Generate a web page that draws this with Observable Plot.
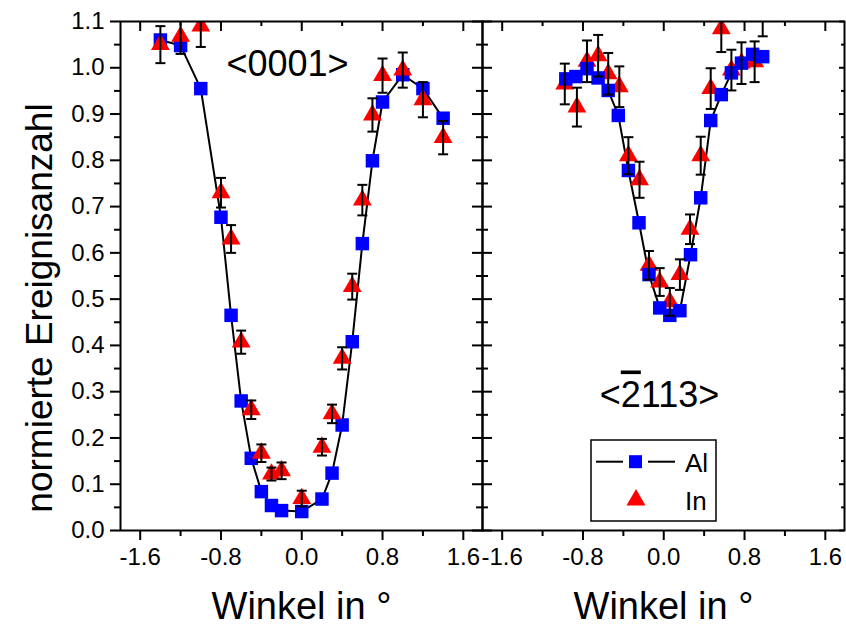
<!DOCTYPE html>
<html>
<head>
<meta charset="utf-8">
<script src="https://cdn.jsdelivr.net/npm/d3@7"></script>
<script src="https://cdn.jsdelivr.net/npm/@observablehq/plot@0.6"></script>
<style>
  body { margin: 0; background: white; }
  #wrap { position: relative; width: 846px; height: 626px; font-family: "Liberation Sans", Arial, sans-serif; }
  #legend { position: absolute; left: 590px; top: 439px; }
</style>
</head>
<body>
<div id="wrap">
  <div id="chart"></div>
  <svg id="legend" width="127" height="83"></svg>
</div>
<script>
// ---- Panels ----
const panelNames = ["<0001>", "<-2113>"];

// ---- Left panel <0001> : Al (blue squares, connected) ----
const xAlA = [-1.4, -1.2, -1.0, -0.8, -0.7, -0.6, -0.5, -0.4, -0.3, -0.2, 0.0, 0.2, 0.3, 0.4, 0.5, 0.6, 0.7, 0.8, 1.0, 1.2, 1.4];
const yAlA = [1.060, 1.048, 0.955, 0.677, 0.465, 0.280, 0.156, 0.084, 0.054, 0.043, 0.041, 0.068, 0.124, 0.228, 0.408, 0.620, 0.799, 0.926, 0.985, 0.955, 0.891];

// ---- Left panel <0001> : In (red triangles with error bars) ----
const xInA = [-1.4, -1.2, -1.0, -0.8, -0.7, -0.6, -0.5, -0.4, -0.3, -0.2, 0.0, 0.2, 0.3, 0.4, 0.5, 0.6, 0.7, 0.8, 1.0, 1.2, 1.4];
const yInA = [1.050, 1.068, 1.090, 0.730, 0.630, 0.407, 0.261, 0.167, 0.122, 0.129, 0.069, 0.180, 0.252, 0.372, 0.527, 0.714, 0.898, 0.983, 0.995, 0.931, 0.849];
const eInA = [0.040, 0.038, 0.045, 0.032, 0.030, 0.025, 0.020, 0.019, 0.014, 0.018, 0.017, 0.018, 0.020, 0.024, 0.028, 0.033, 0.036, 0.037, 0.038, 0.038, 0.036];

// ---- Right panel <-2113> : Al ----
const xAlB = [-0.97, -0.87, -0.76, -0.65, -0.55, -0.45, -0.35, -0.245, -0.146, -0.04, 0.06, 0.16, 0.265, 0.366, 0.465, 0.57, 0.67, 0.77, 0.88, 0.98];
const yAlB = [0.976, 0.981, 0.998, 0.978, 0.951, 0.897, 0.778, 0.665, 0.553, 0.481, 0.465, 0.475, 0.596, 0.719, 0.886, 0.942, 0.989, 1.010, 1.029, 1.024];

// ---- Right panel <-2113> : In ----
const xInB = [-0.98, -0.86, -0.76, -0.65, -0.55, -0.44, -0.35, -0.24, -0.146, -0.04, 0.06, 0.16, 0.26, 0.366, 0.465, 0.57, 0.67, 0.77, 0.90, 0.98];
const yInB = [0.965, 0.915, 1.014, 1.026, 0.987, 0.959, 0.810, 0.758, 0.573, 0.537, 0.494, 0.553, 0.651, 0.810, 0.955, 1.084, 0.995, 1.010, 1.013, 1.115];
const eInB = [0.044, 0.042, 0.045, 0.045, 0.045, 0.044, 0.040, 0.039, 0.031, 0.030, 0.030, 0.033, 0.032, 0.041, 0.044, 0.050, 0.044, 0.045, 0.044, 0.047];

// ---- Ticks and labels ----
const xMajor = [-1.6, -0.8, 0.0, 0.8, 1.6];
const xMinor = [-1.2, -0.4, 0.4, 1.2];
const yMajor = [0.0, 0.1, 0.2, 0.3, 0.4, 0.5, 0.6, 0.7, 0.8, 0.9, 1.0, 1.1];
const yMinor = [0.05, 0.15, 0.25, 0.35, 0.45, 0.55, 0.65, 0.75, 0.85, 0.95, 1.05];
const xLabel = "Winkel in °";
const yLabel = "normierte Ereignisanzahl";
const seriesNames = ["Al", "In"];

// ---- Build tables ----
const al = [
  ...xAlA.map((x, i) => ({panel: panelNames[0], x, y: yAlA[i]})),
  ...xAlB.map((x, i) => ({panel: panelNames[1], x, y: yAlB[i]}))
];
const inn = [
  ...xInA.map((x, i) => ({panel: panelNames[0], x, y: yInA[i], err: eInA[i]})),
  ...xInB.map((x, i) => ({panel: panelNames[1], x, y: yInB[i], err: eInB[i]}))
];

const W = 362, H = 509; // facet inner size (px)
const fmt = d => d.toFixed(1);
const blue = "#0000ff", red = "#ff0000";
const capSymbol = {draw(ctx) { ctx.moveTo(-5, 0); ctx.lineTo(5, 0); }};
const isA = d => d.panel === panelNames[0];
const isB = d => d.panel === panelNames[1];
// "<-2113>" written crystallographically: the "-" becomes a bar over the 2
const crystal = s => s.replace("-", "");

const chart = Plot.plot({
  width: 846,
  height: 626,
  marginLeft: 120,
  marginRight: 2,
  marginTop: 21,
  marginBottom: 96,
  fx: {domain: panelNames, padding: 0, axis: null},
  x: {domain: [-1.795, 1.79], label: null},
  y: {domain: [0, 1.1], label: null},
  style: {fontFamily: "'Liberation Sans', Arial, sans-serif", color: "black", background: "white", overflow: "visible"},
  marks: [
    Plot.line(al, {x: "x", y: "y", fx: "panel", stroke: "black", strokeWidth: 2, clip: true}),
    // left panel: Al below In
    Plot.dot(al, {filter: isA, x: "x", y: "y", fx: "panel", symbol: "square", r: 7.6, fill: blue, clip: true}),
    Plot.dot(inn, {filter: isA, x: "x", y: "y", fx: "panel", symbol: "triangle", r: 7, fill: red, clip: true}),
    // right panel: In below Al
    Plot.dot(inn, {filter: isB, x: "x", y: "y", fx: "panel", symbol: "triangle", r: 7, fill: red, clip: true}),
    Plot.dot(al, {filter: isB, x: "x", y: "y", fx: "panel", symbol: "square", r: 7.6, fill: blue, clip: true}),
    // error bars
    Plot.ruleX(inn, {x: "x", y1: d => d.y - d.err, y2: d => d.y + d.err, fx: "panel", stroke: "black", strokeWidth: 2, clip: true}),
    Plot.dot(inn, {x: "x", y: d => d.y + d.err, fx: "panel", symbol: capSymbol, fill: "none", stroke: "black", strokeWidth: 2, clip: true}),
    Plot.dot(inn, {x: "x", y: d => d.y - d.err, fx: "panel", symbol: capSymbol, fill: "none", stroke: "black", strokeWidth: 2, clip: true}),
    // outer axes
    Plot.axisY(yMajor, {anchor: "left", tickSize: 10, tickPadding: 6, tickFormat: fmt, fontSize: 24, strokeWidth: 2, label: null}),
    Plot.axisY(yMinor, {anchor: "left", tickSize: 6, tickFormat: () => "", strokeWidth: 2, label: null}),
    Plot.axisX(xMajor, {anchor: "bottom", tickSize: 10, tickPadding: 7, tickFormat: fmt, fontSize: 24, strokeWidth: 2, label: null}),
    Plot.axisX(xMinor, {anchor: "bottom", tickSize: 6, tickFormat: () => "", strokeWidth: 2, label: null}),
    // inward ticks: top
    Plot.tickX(xMajor, {x: d => d, insetBottom: H - 10, strokeWidth: 2}),
    Plot.tickX(xMinor, {x: d => d, insetBottom: H - 5, strokeWidth: 2}),
    // inward ticks: right edge of left panel
    Plot.tickY(yMajor, {y: d => d, fx: () => panelNames[0], insetLeft: W - 10, strokeWidth: 2}),
    Plot.tickY(yMinor, {y: d => d, fx: () => panelNames[0], insetLeft: W - 6, strokeWidth: 2}),
    // inward ticks: left edge of right panel
    Plot.tickY(yMajor, {y: d => d, fx: () => panelNames[1], insetRight: W - 10, strokeWidth: 2}),
    Plot.tickY(yMinor, {y: d => d, fx: () => panelNames[1], insetRight: W - 6, strokeWidth: 2}),
    // inward ticks: right edge of right panel
    Plot.tickY(yMajor, {y: d => d, fx: () => panelNames[1], insetLeft: W - 5, strokeWidth: 2}),
    Plot.tickY(yMinor, {y: d => d, fx: () => panelNames[1], insetLeft: W - 3, strokeWidth: 2}),
    Plot.frame({stroke: "black", strokeWidth: 2}),
    // panel annotations
    Plot.text([panelNames[0]], {fx: d => d, text: d => d, frameAnchor: "top-left", dx: 167, dy: 54, lineAnchor: "bottom", textAnchor: "middle", fontSize: 36}),
    Plot.text([panelNames[1]], {fx: d => d, text: d => crystal(d), frameAnchor: "top-left", dx: 177, dy: 385, lineAnchor: "bottom", textAnchor: "middle", fontSize: 36}),
    // axis titles
    Plot.text([xLabel], {text: d => d, frameAnchor: "bottom", dy: 88, lineAnchor: "bottom", textAnchor: "middle", fontSize: 38}),
    Plot.text([yLabel], {fx: () => panelNames[0], text: d => d, frameAnchor: "left", dx: -80, dy: 32, rotate: -90, lineAnchor: "middle", textAnchor: "middle", fontSize: 37})
  ]
});
document.getElementById("chart").appendChild(chart);

// put the bar over the "2" of the crystallographic direction
d3.select(chart).selectAll("text")
  .filter(function () { return this.textContent === crystal(panelNames[1]); })
  .each(function () {
    const t = d3.select(this);
    const s = this.textContent;
    t.text(null);
    t.append("tspan").text(s.slice(0, 1));
    t.append("tspan").style("text-decoration", "overline").text(s.slice(1, 2));
    t.append("tspan").text(s.slice(2));
  });

// ---- Legend ----
const lg = d3.select("#legend");
lg.append("rect").attr("x", 1).attr("y", 1).attr("width", 125).attr("height", 81)
  .attr("fill", "white").attr("stroke", "black").attr("stroke-width", 1.5);
lg.append("line").attr("x1", 6).attr("x2", 33).attr("y1", 22.7).attr("y2", 22.7).attr("stroke", "black").attr("stroke-width", 2);
lg.append("line").attr("x1", 58).attr("x2", 85).attr("y1", 22.7).attr("y2", 22.7).attr("stroke", "black").attr("stroke-width", 2);
lg.append("rect").attr("x", 39).attr("y", 16.2).attr("width", 13).attr("height", 13).attr("fill", blue);
lg.append("polygon").attr("points", "46,50 36.5,66.5 55.5,66.5").attr("fill", red);
lg.append("text").attr("x", 95).attr("y", 32.7).attr("font-size", 26).attr("font-family", "'Liberation Sans', Arial, sans-serif").text(seriesNames[0]);
lg.append("text").attr("x", 95).attr("y", 71).attr("font-size", 26).attr("font-family", "'Liberation Sans', Arial, sans-serif").text(seriesNames[1]);
</script>
</body>
</html>
